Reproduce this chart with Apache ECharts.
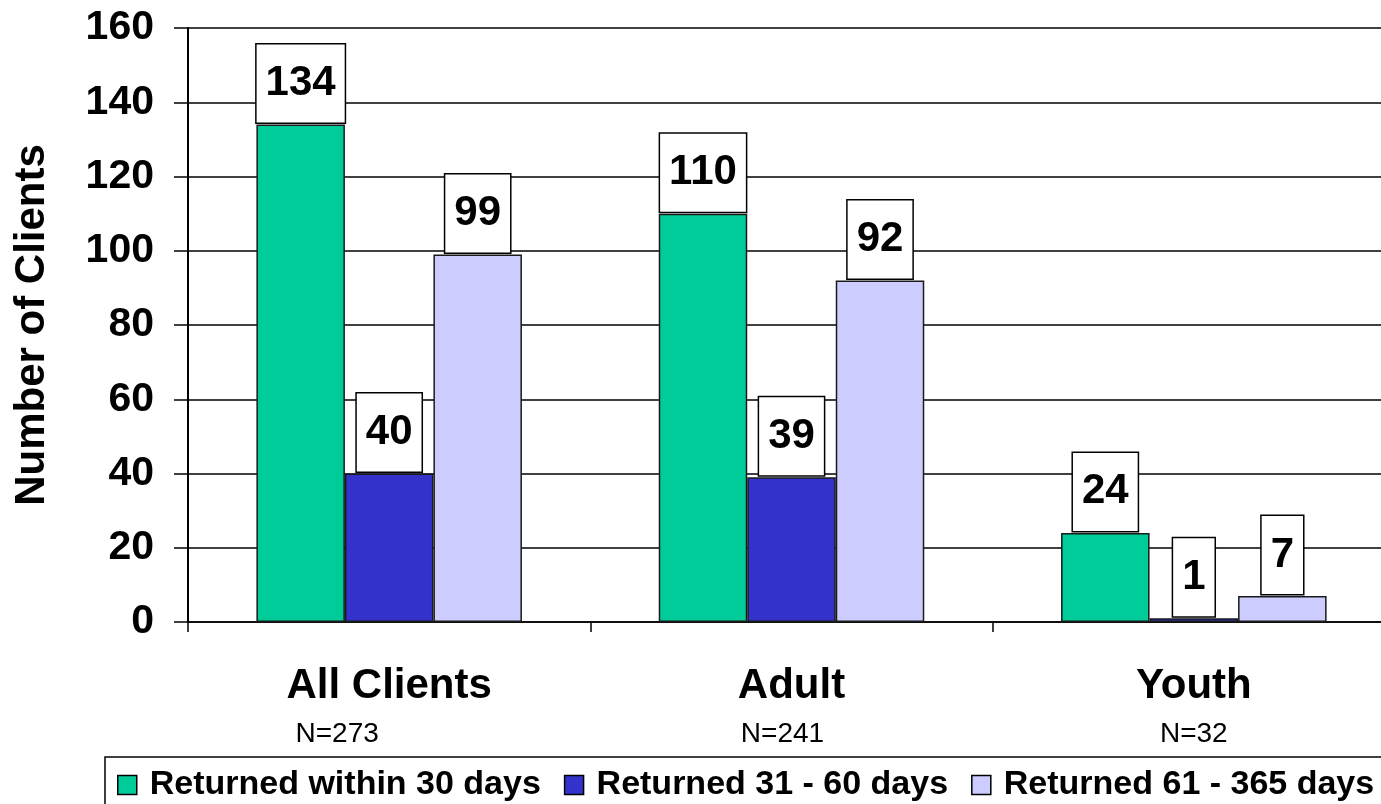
<!DOCTYPE html>
<html>
<head>
<meta charset="utf-8">
<script src="https://cdn.jsdelivr.net/npm/echarts@6/dist/echarts.min.js"></script>
<style>
  html, body { margin: 0; padding: 0; background: #fff; }
  #chart { width: 1381px; height: 804px; }
</style>
</head>
<body>
<div id="chart"></div>
<script>
const categories = ['All Clients', 'Adult', 'Youth'];
const sampleSizes = ['N=273', 'N=241', 'N=32'];
const seriesNames = ['Returned within 30 days', 'Returned 31 - 60 days', 'Returned 61 - 365 days'];
const within30 = [134, 110, 24];
const days31to60 = [40, 39, 1];
const days61to365 = [99, 92, 7];
const yTicks = { min: 0, max: 160, interval: 20 };

const FONT = "'Liberation Sans', Arial, sans-serif";
const colors = ['#00CC99', '#3333CC', '#CCCCFF'];

const chart = echarts.init(document.getElementById('chart'));

const makeSeries = (name, data, color) => ({
    name,
    type: 'bar',
    data,
    barGap: '0%',
    barCategoryGap: '34%',
    itemStyle: { color, borderColor: '#1a1a1a', borderWidth: 1.5 },
    label: {
        show: true,
        position: 'top',
        distance: 2,
        fontFamily: FONT,
        fontWeight: 'bold',
        fontSize: 42,
        lineHeight: 44,
        color: '#000',
        backgroundColor: '#fff',
        borderColor: '#000',
        borderWidth: 1.5,
        padding: [17, 9, 17, 9]
    }
});

const option = {
    animation: false,
    textStyle: { fontFamily: FONT },
    // the plot runs a little past the right edge of the picture
    grid: {
        left: 188, top: 28, width: 1207, height: 594,
        containLabel: false,
        outerBoundsMode: 'none'
    },
    legend: {
        data: seriesNames,
        left: 105,
        top: 757,
        width: 1400,
        orient: 'horizontal',
        itemWidth: 19,
        itemHeight: 19,
        itemGap: 23,
        icon: 'rect',
        borderColor: '#000',
        borderWidth: 1.5,
        padding: [9, 20, 20, 12],
        itemStyle: { borderColor: '#000', borderWidth: 1.5 },
        textStyle: {
            fontFamily: FONT,
            fontWeight: 'bold',
            fontSize: 34,
            lineHeight: 38,
            color: '#000',
            padding: [0, 0, 0, 8]
        }
    },
    xAxis: {
        type: 'category',
        data: categories,
        axisLine: { lineStyle: { color: '#000', width: 1.5 } },
        axisTick: { show: true, length: 10, lineStyle: { color: '#000', width: 1.5 } },
        axisLabel: {
            margin: 37,
            color: '#000',
            formatter: (v, i) => '{c|' + v + '}\n{n' + i + '|' + sampleSizes[i] + '}',
            rich: {
                c: { fontFamily: FONT, fontWeight: 'bold', fontSize: 42, lineHeight: 55, color: '#000' },
                n0: { fontFamily: FONT, fontSize: 28, lineHeight: 40, color: '#000', padding: [0, 104, 0, 0] },
                n1: { fontFamily: FONT, fontSize: 28, lineHeight: 40, color: '#000', padding: [0, 18, 0, 0] },
                n2: { fontFamily: FONT, fontSize: 28, lineHeight: 40, color: '#000' }
            }
        }
    },
    yAxis: {
        type: 'value',
        min: yTicks.min,
        max: yTicks.max,
        interval: yTicks.interval,
        name: 'Number of Clients',
        nameLocation: 'middle',
        nameRotate: 90,
        nameGap: 135,
        nameTextStyle: { fontFamily: FONT, fontWeight: 'bold', fontSize: 42, color: '#000' },
        axisLine: { show: true, lineStyle: { color: '#000', width: 2 } },
        axisTick: { show: true, length: 14, lineStyle: { color: '#000', width: 1.5 } },
        axisLabel: { margin: 34, fontFamily: FONT, fontWeight: 'bold', fontSize: 41, color: '#000' },
        splitLine: { show: true, lineStyle: { color: '#000', width: 1.5 } }
    },
    series: [
        makeSeries(seriesNames[0], within30, colors[0]),
        makeSeries(seriesNames[1], days31to60, colors[1]),
        makeSeries(seriesNames[2], days61to365, colors[2])
    ]
};

chart.setOption(option);
</script>
</body>
</html>
